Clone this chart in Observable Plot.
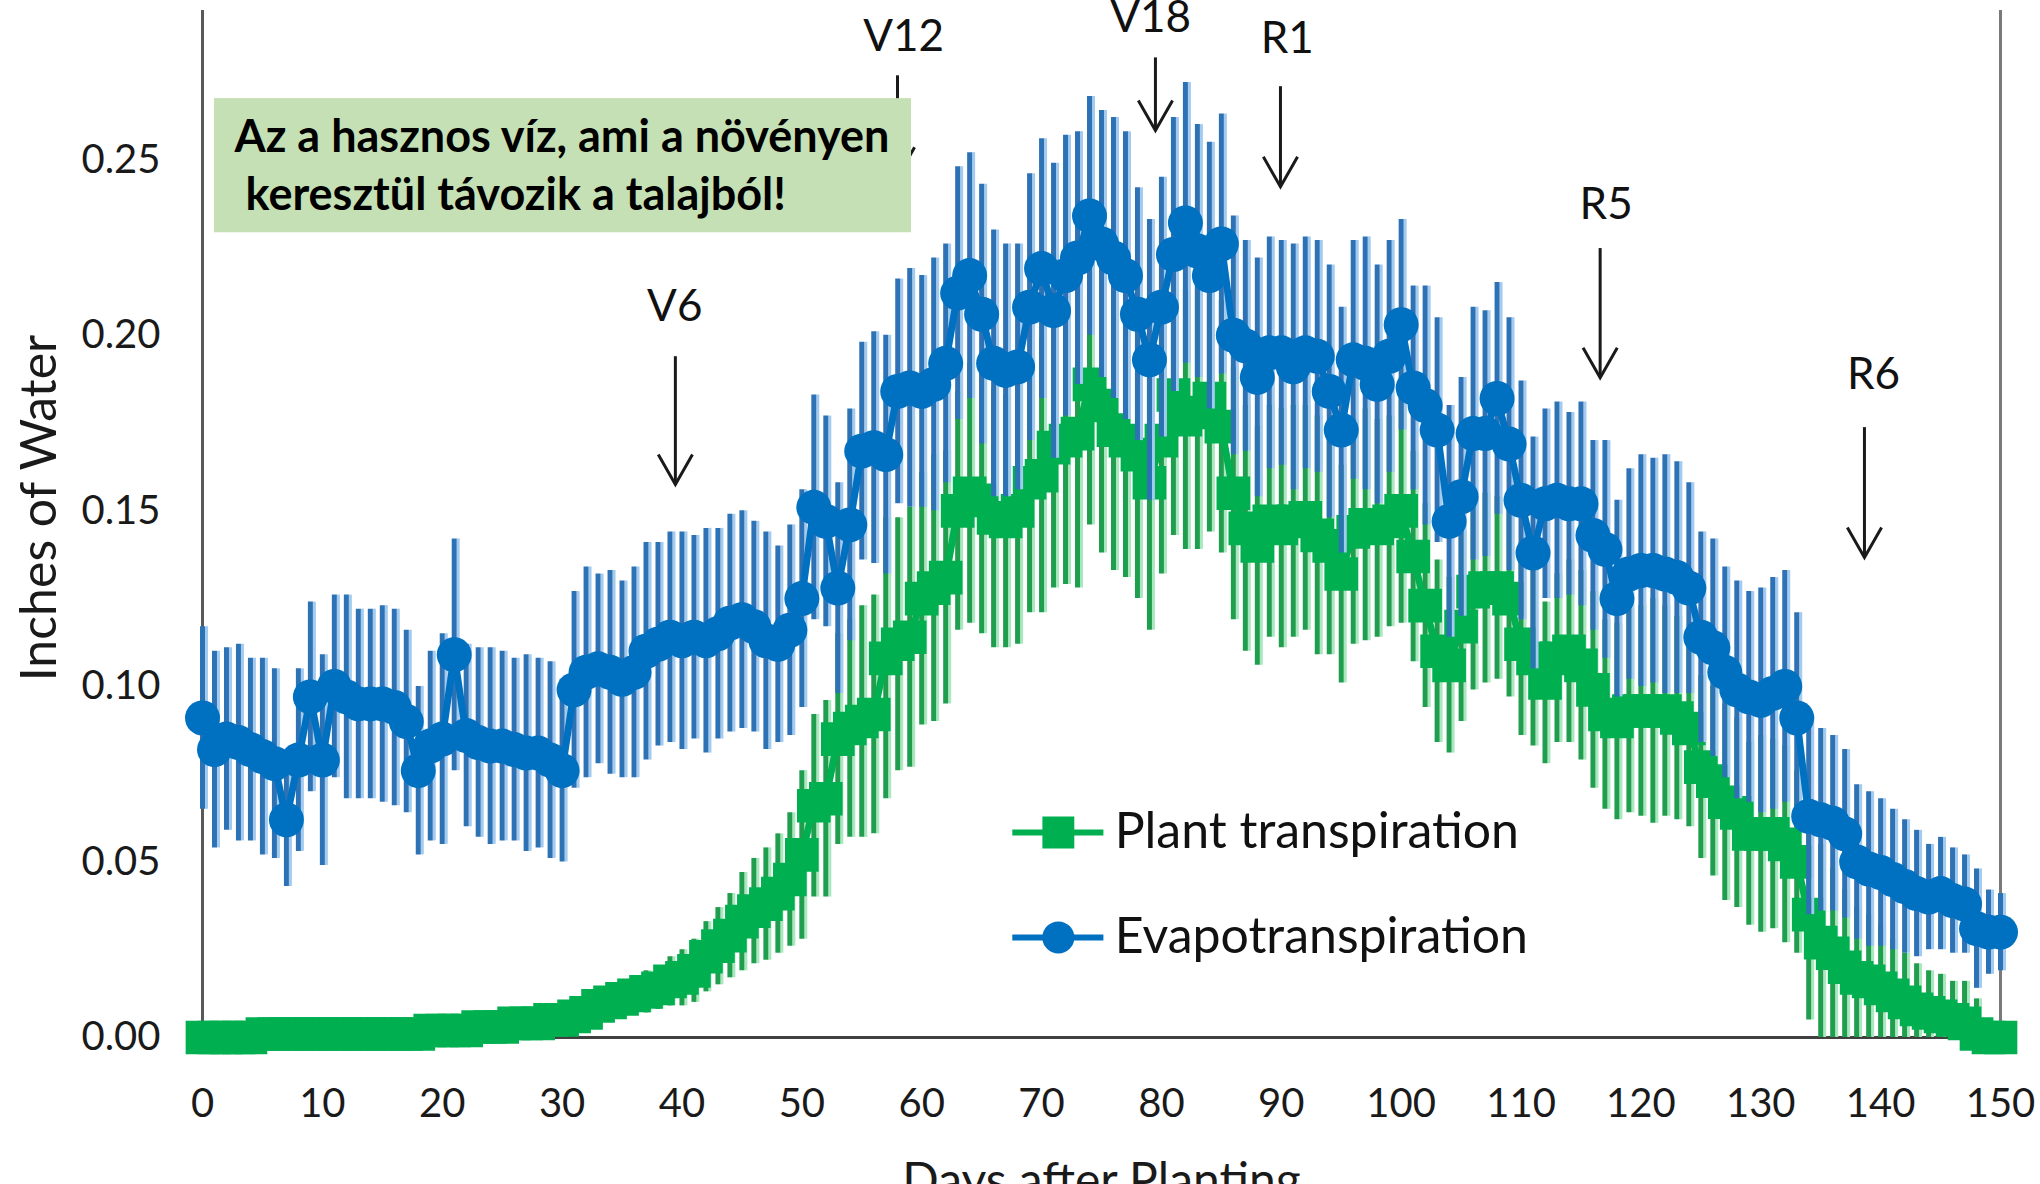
<!DOCTYPE html>
<html><head><meta charset="utf-8">
<script src="https://cdn.jsdelivr.net/npm/d3@7"></script>
<script src="https://cdn.jsdelivr.net/npm/@observablehq/plot@0.6"></script>
<style>
html,body{margin:0;padding:0;background:#fff;overflow:hidden;}
#chart svg{display:block;}
</style></head><body><div id="chart"></div>
<script>
// ---- data ----
const days = d3.range(0, 151);
const xTicks = [0,10,20,30,40,50,60,70,80,90,100,110,120,130,140,150];
const yTicks = [0,0.05,0.10,0.15,0.20,0.25];

// Evapotranspiration (blue circles), inches/day
const etMean = [
0.091,0.082,0.085,0.084,0.082,0.080,0.078,0.062,0.079,0.097,0.079,
0.100,0.097,0.095,0.095,0.095,0.094,0.090,0.076,0.083,0.085,
0.109,0.086,0.084,0.083,0.083,0.082,0.081,0.081,0.079,0.076,
0.099,0.104,0.105,0.104,0.102,0.104,0.110,0.112,0.114,0.113,
0.114,0.113,0.115,0.118,0.119,0.117,0.113,0.112,0.116,0.125,
0.151,0.147,0.128,0.146,0.167,0.168,0.166,0.184,0.185,0.184,
0.186,0.192,0.212,0.217,0.206,0.192,0.190,0.191,0.208,0.219,
0.207,0.217,0.222,0.234,0.226,0.222,0.217,0.206,0.193,0.208,
0.223,0.232,0.224,0.217,0.226,0.200,0.197,0.188,0.195,0.195,
0.191,0.195,0.194,0.184,0.173,0.193,0.192,0.186,0.194,0.203,
0.185,0.180,0.173,0.147,0.154,0.172,0.172,0.182,0.169,0.153,
0.138,0.152,0.153,0.152,0.152,0.143,0.139,0.125,0.132,0.133,
0.133,0.132,0.131,0.128,0.114,0.111,0.104,0.099,0.097,0.096,
0.098,0.100,0.091,0.063,0.062,0.061,0.058,0.050,0.048,0.047,
0.045,0.043,0.041,0.040,0.041,0.039,0.038,0.031,0.030,0.030];
const etErr = [
0.026,0.028,0.026,0.028,0.026,0.028,0.027,0.019,0.026,0.027,0.030,
0.026,0.029,0.027,0.027,0.028,0.028,0.026,0.024,0.027,0.030,
0.033,0.026,0.027,0.028,0.027,0.026,0.028,0.027,0.028,0.026,
0.028,0.030,0.027,0.029,0.028,0.030,0.031,0.029,0.030,0.031,
0.029,0.032,0.030,0.031,0.031,0.030,0.031,0.028,0.030,0.031,
0.032,0.030,0.030,0.033,0.031,0.033,0.034,0.032,0.034,0.033,
0.036,0.034,0.036,0.035,0.037,0.038,0.036,0.035,0.038,0.037,
0.042,0.040,0.036,0.034,0.038,0.040,0.041,0.036,0.040,0.037,
0.039,0.040,0.036,0.038,0.037,0.034,0.030,0.034,0.033,0.032,
0.035,0.033,0.033,0.036,0.035,0.034,0.036,0.034,0.033,0.030,
0.029,0.034,0.032,0.033,0.034,0.036,0.035,0.033,0.036,0.034,
0.033,0.027,0.028,0.026,0.029,0.027,0.031,0.028,0.030,0.033,
0.032,0.034,0.033,0.030,0.030,0.031,0.030,0.031,0.030,0.032,
0.033,0.033,0.030,0.028,0.026,0.025,0.024,0.022,0.022,0.021,
0.020,0.019,0.018,0.015,0.016,0.015,0.014,0.017,0.012,0.011];

// Plant transpiration (green squares), inches/day
const trMean = [
0.000,0.000,0.000,0.000,0.000,0.001,0.001,0.001,0.001,0.001,0.001,
0.001,0.001,0.001,0.001,0.001,0.001,0.001,0.001,0.002,0.002,
0.002,0.002,0.003,0.003,0.003,0.004,0.004,0.004,0.005,0.005,
0.006,0.007,0.009,0.010,0.011,0.012,0.013,0.014,0.016,0.017,
0.019,0.023,0.026,0.029,0.033,0.036,0.038,0.041,0.045,0.052,
0.066,0.068,0.085,0.088,0.090,0.092,0.108,0.112,0.114,0.125,
0.128,0.131,0.150,0.155,0.153,0.148,0.147,0.150,0.158,0.160,
0.168,0.170,0.172,0.186,0.180,0.173,0.170,0.166,0.158,0.170,
0.183,0.176,0.178,0.182,0.174,0.155,0.145,0.140,0.147,0.145,
0.147,0.148,0.143,0.140,0.132,0.144,0.146,0.145,0.147,0.150,
0.137,0.123,0.110,0.106,0.117,0.127,0.128,0.128,0.125,0.112,
0.108,0.101,0.108,0.110,0.106,0.099,0.092,0.090,0.093,0.093,
0.093,0.093,0.091,0.088,0.077,0.073,0.067,0.064,0.058,0.058,
0.058,0.055,0.050,0.035,0.027,0.024,0.020,0.017,0.016,0.014,
0.012,0.010,0.008,0.007,0.006,0.005,0.004,0.001,0.000,0.000];
const trErr = [
0.001,0.001,0.001,0.001,0.001,0.001,0.001,0.001,0.001,0.001,0.001,
0.001,0.001,0.001,0.001,0.001,0.001,0.001,0.001,0.001,0.001,
0.001,0.001,0.002,0.002,0.002,0.002,0.002,0.002,0.003,0.003,
0.003,0.003,0.004,0.004,0.005,0.005,0.006,0.006,0.007,0.008,
0.009,0.010,0.011,0.012,0.014,0.015,0.016,0.017,0.019,0.024,
0.026,0.028,0.030,0.031,0.033,0.034,0.040,0.036,0.037,0.036,
0.038,0.036,0.034,0.037,0.038,0.037,0.036,0.038,0.037,0.039,
0.040,0.041,0.044,0.040,0.042,0.040,0.039,0.041,0.042,0.038,
0.040,0.037,0.039,0.038,0.036,0.036,0.035,0.034,0.033,0.034,
0.033,0.032,0.034,0.031,0.031,0.032,0.033,0.031,0.030,0.032,
0.030,0.029,0.026,0.025,0.027,0.028,0.027,0.026,0.028,0.026,
0.025,0.023,0.024,0.026,0.027,0.028,0.027,0.028,0.029,0.030,
0.032,0.030,0.029,0.028,0.026,0.027,0.028,0.027,0.026,0.028,
0.027,0.028,0.026,0.030,0.028,0.024,0.022,0.020,0.019,0.018,
0.016,0.014,0.013,0.012,0.012,0.011,0.012,0.010,0.004,0.003];

const seriesNames = ["Plant transpiration", "Evapotranspiration"];

// Growth-stage annotations (day, arrow top / tip, label baseline, in data units)
const stageLabels = ["V6", "V12", "V18", "R1", "R5", "R6"];
const stageDay    = [39.45, 57.98, 79.5, 89.93, 116.6, 138.65];
const stageLabelX = [39.4, 58.5, 79.1, 90.5, 117.1, 139.4];
const stageLabelY = [0.2042, 0.2810, 0.2864, 0.2805, 0.2332, 0.1848];
const stageTop    = [0.1939, 0.2739, 0.2790, 0.2708, 0.2247, 0.1737];
const stageTip    = [0.1575, 0.2450, 0.2583, 0.2423, 0.1879, 0.1367];

const boxLines = ["Az a hasznos víz, ami a növényen", "keresztül távozik a talajból!"];

// ---- build tables ----
const rows = days.map((d, i) => ({day: d, et: etMean[i], etE: etErr[i], tr: trMean[i], trE: trErr[i]}));
const stages = stageLabels.map((s, i) => ({label: s, day: stageDay[i], lx: stageLabelX[i], ly: stageLabelY[i], top: stageTop[i], tip: stageTip[i]}));
const boxText = [{t: boxLines[0], x: 2.67, y: 0.2523}, {t: boxLines[1], x: 3.59, y: 0.2358}];
const legTr = [{label: seriesNames[0], y: 0.0584}];
const legEt = [{label: seriesNames[1], y: 0.0285}];

const FONT = "Lato, 'Open Sans', sans-serif";
const INK = "#1a1a1a";
const GREEN = "#00b050", BLUE = "#0070c0";
const vee = {draw(ctx, size) { const r = Math.sqrt(size / Math.PI); ctx.moveTo(-0.57 * r, -r); ctx.lineTo(0, 0); ctx.lineTo(0.57 * r, -r); }};

const chart = Plot.plot({
  width: 2040, height: 1184,
  marginLeft: 202, marginRight: 40, marginTop: 10, marginBottom: 147,
  style: {fontFamily: FONT, background: "#fff"},
  x: {domain: [0, 150]},
  y: {domain: [0, 0.2925]},
  marks: [
    Plot.axisX({ticks: xTicks, tickSize: 0, tickPadding: 51, fontSize: 40, fill: INK, label: null, tickFormat: d => String(d)}),
    Plot.axisY({ticks: yTicks, tickSize: 0, tickPadding: 42, fontSize: 40, fill: INK, label: null, tickFormat: d3.format(".2f")}),
    Plot.ruleY([0], {stroke: "#404040", strokeWidth: 3}),
    Plot.ruleX([0], {stroke: "#595959", strokeWidth: 3}),
    Plot.ruleX([150], {stroke: "#7a7a7a", strokeWidth: 3}),
    // transpiration
    Plot.ruleX(rows, {x: "day", y1: d => Math.max(0, d.tr - d.trE), y2: d => d.tr + d.trE, stroke: "#a9e8bf", strokeWidth: 3, dx: 4}),
    Plot.ruleX(rows, {x: "day", y1: d => Math.max(0, d.tr - d.trE), y2: d => d.tr + d.trE, stroke: "#1f9e4e", strokeWidth: 5}),
    Plot.line(rows, {x: "day", y: "tr", stroke: GREEN, strokeWidth: 7}),
    Plot.dot(rows, {x: "day", y: "tr", symbol: "square", r: 19, fill: GREEN}),
    // evapotranspiration
    Plot.ruleX(rows, {x: "day", y1: d => d.et - d.etE, y2: d => d.et + d.etE, stroke: "#a3cbef", strokeWidth: 3, dx: 4}),
    Plot.ruleX(rows, {x: "day", y1: d => d.et - d.etE, y2: d => d.et + d.etE, stroke: "#2e72b6", strokeWidth: 5}),
    Plot.line(rows, {x: "day", y: "et", stroke: BLUE, strokeWidth: 7}),
    Plot.dot(rows, {x: "day", y: "et", r: 17.5, fill: BLUE}),
    // stage arrows
    Plot.ruleX(stages, {x: "day", y1: "top", y2: "tip", stroke: INK, strokeWidth: 3}),
    Plot.dot(stages, {x: "day", y: "tip", symbol: vee, r: 30, stroke: INK, strokeWidth: 3, fill: "none", strokeLinejoin: "miter"}),
    Plot.text(stages, {x: "lx", y: "ly", text: "label", lineAnchor: "bottom", fontSize: 44, fill: "#111"}),
    // annotation box
    Plot.rect([{x1: 1.0, x2: 59.15, y1: 0.2292, y2: 0.2674}], {x1: "x1", x2: "x2", y1: "y1", y2: "y2", fill: "#c5e0b4"}),
    Plot.text(boxText, {x: "x", y: "y", text: "t", textAnchor: "start", lineAnchor: "bottom", fontSize: 45, fontWeight: "bold", fill: "#000"}),
    // legend
    Plot.ruleY(legTr, {y: "y", x1: 67.6, x2: 75.2, stroke: GREEN, strokeWidth: 6}),
    Plot.dot(legTr, {x: 71.4, y: "y", symbol: "square", r: 18, fill: GREEN}),
    Plot.ruleY(legEt, {y: "y", x1: 67.6, x2: 75.2, stroke: BLUE, strokeWidth: 6}),
    Plot.dot(legEt, {x: 71.4, y: "y", r: 16, fill: BLUE}),
    Plot.text([...legTr, ...legEt], {x: 76.1, y: "y", text: "label", textAnchor: "start", lineAnchor: "middle", fontSize: 50, fill: "#111"}),
    // axis titles
    Plot.text(["Inches of Water"], {frameAnchor: "left", rotate: -90, dx: -147, dy: -16, textAnchor: "middle", lineAnchor: "bottom", fontSize: 50, fill: INK}),
    Plot.text(["Days after Planting"], {frameAnchor: "bottom", dy: 125, lineAnchor: "top", fontSize: 48, fill: INK})
  ]
});
document.getElementById("chart").append(chart);
</script></body></html>
